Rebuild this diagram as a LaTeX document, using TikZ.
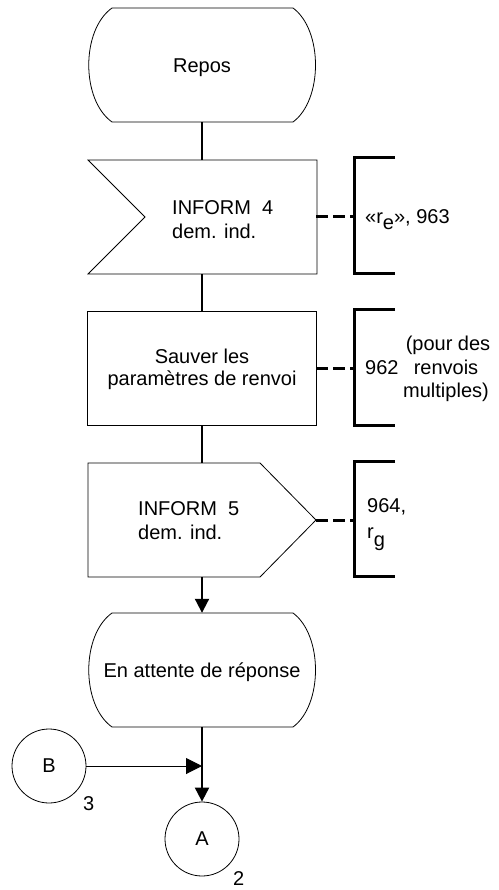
\documentclass[tikz,border=0pt]{standalone}
\usepackage{fontspec}
\setmainfont{Liberation Sans}
\usetikzlibrary{arrows.meta}
\begin{document}
\begin{tikzpicture}[x=1pt,y=-1pt,
  every node/.style={font=\fontsize{20}{23}\selectfont, inner sep=0pt},
  frm/.style={minimum width=228pt, minimum height=114pt},
  outl/.style={draw=black, line width=0.8pt},
  flow/.style={line width=2pt},
  brk/.style={line width=3pt},
  dsh/.style={line width=3pt, dash pattern=on 12pt off 5pt},
  tip/.style={-{Triangle[length=14pt,width=14pt]}},
  tiph/.style={-{Triangle[length=16pt,width=16pt]}},
  txt/.style={anchor=base},
  txtw/.style={anchor=base west},
  conn/.style={circle, draw, line width=0.8pt, minimum size=74pt},
  brnode/.style={minimum width=40pt, minimum height=115pt}
]
\useasboundingbox (0,0) rectangle (498,890);

% frames (invisible nodes giving the shapes' extents)
\node[frm] (repos) at (202,65) {};
\node[frm] (in4) at (202,217) {};
\node[frm] (task) at (202,368) {};
\node[frm] (out5) at (202,520) {};
\node[frm] (enatt) at (202,670) {};

% outlines
\draw[outl] (112,8) -- (293,8) .. controls (323,30) and (323,100) .. (293,122)
  -- (112,122) .. controls (81,100) and (81,30) .. (112,8) -- cycle;
\draw[outl] (88,160) -- (317,160) -- (317,274) -- (88,274) -- (145,217) -- cycle;
\draw[outl] (87,311) rectangle (316,425);
\draw[outl] (88,463) -- (260,463) -- (316,520) -- (260,577) -- (88,577) -- cycle;
\draw[outl] (112,613) -- (293,613) .. controls (323,635) and (323,705) .. (293,727)
  -- (112,727) .. controls (81,705) and (81,635) .. (112,613) -- cycle;

% texts
\node[txt] (tRepos) at (202,73) {Repos};
\node[txtw] (t4a) at (172,215) {INFORM\ \ 4};
\node[txtw] (t4b) at (172,239) {dem. ind.};
\node[txt] (tSa) at (202,363) {Sauver les};
\node[txt] (tSb) at (202,385) {paramètres de renvoi};
\node[txtw] (t5a) at (138,515) {INFORM\ \ 5};
\node[txtw] (t5b) at (138,539) {dem. ind.};
\node[txt] (tEn) at (202,677) {En attente de réponse};

% comment brackets
\node[brnode] (c1) at (375,215.5) {};
\node[brnode] (c2) at (375,367.5) {};
\node[brnode] (c3) at (375,519) {};
\draw[brk] (c1.north east) -- (c1.north west) -- (c1.south west) -- (c1.south east);
\draw[brk] (c2.north east) -- (c2.north west) -- (c2.south west) -- (c2.south east);
\draw[brk] (c3.north east) -- (c3.north west) -- (c3.south west) -- (c3.south east);
\draw[dsh] (in4.east) -- (in4.east -| c1.west);
\draw[dsh] (task.east) -- (task.east -| c2.west);
\draw[dsh] (out5.east) -- (out5.east -| c3.west);

\node[txtw] (c1t) at (365,224) {«r\raisebox{-6pt}{e}», 963};
\node[txtw] (c2t) at (365,374) {962};
\node[txt] (c2a) at (448,350) {(pour des};
\node[txt] (c2b) at (446,374) {renvois};
\node[txt] (c2c) at (446,397) {multiples)};
\node[txtw] (c3a) at (367,512) {964,};
\node[txtw] (c3b) at (367,538) {r\raisebox{-8pt}{g}};

% connectors
\node[conn] (B) at (49,766) {B};
\node[conn] (A) at (202,839) {A};
\node[txtw] (l3) at (83,810) {3};
\node[txtw] (l2) at (233,885) {2};
\coordinate (jn) at (202,766);

\draw[flow] (repos.south) -- (in4.north);
\draw[flow] (in4.south) -- (task.north);
\draw[flow] (task.south) -- (out5.north);
\draw[flow,tip] (out5.south) -- (enatt.north);
\draw[flow,tip] (enatt.south) -- (A.north);
\draw[line width=1pt,tiph] (B.east) -- (jn);
\end{tikzpicture}
\end{document}
